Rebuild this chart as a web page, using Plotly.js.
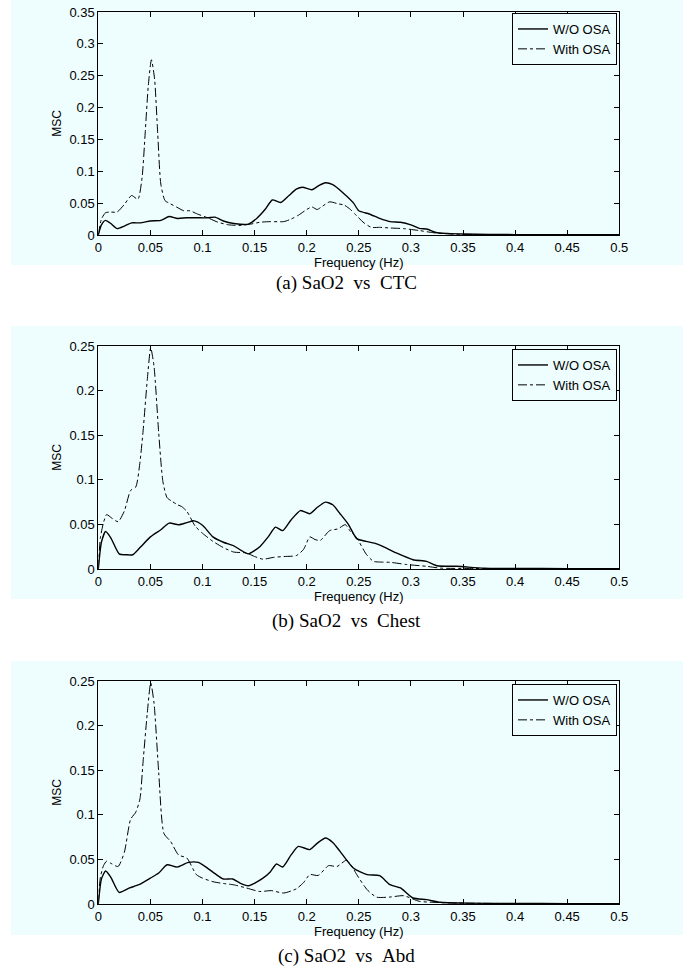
<!DOCTYPE html>
<html>
<head>
<meta charset="utf-8">
<script src="https://cdn.plot.ly/plotly-3.0.1.min.js"></script>
<style>html,body{margin:0;padding:0;background:#fff;}#plot{width:692px;height:971px;}</style>
</head>
<body>
<div id="plot"></div>
<script>
// ---------- data ----------
const seriesNames = ["W/O OSA", "With OSA"];
const captions = ["(a) SaO2\u2002vs\u2002CTC", "(b) SaO2\u2002vs\u2002Chest", "(c) SaO2\u2002vs\u2002Abd"];
const xTickVals = [0, 0.05, 0.1, 0.15, 0.2, 0.25, 0.3, 0.35, 0.4, 0.45, 0.5];
const xTickText = ["0", "0.05", "0.1", "0.15", "0.2", "0.25", "0.3", "0.35", "0.4", "0.45", "0.5"];
const yTickValsA = [0, 0.05, 0.1, 0.15, 0.2, 0.25, 0.3, 0.35];
const yTickTextA = ["0", "0.05", "0.1", "0.15", "0.2", "0.25", "0.3", "0.35"];
const yTickValsBC = [0, 0.05, 0.1, 0.15, 0.2, 0.25];
const yTickTextBC = ["0", "0.05", "0.1", "0.15", "0.2", "0.25"];

// (a) SaO2 vs CTC
const freqA_wo = [0, 0.003, 0.007, 0.012, 0.018, 0.025, 0.032, 0.04, 0.05, 0.06, 0.068, 0.076, 0.085, 0.095, 0.105, 0.112, 0.12, 0.13, 0.144, 0.152, 0.16, 0.167, 0.175, 0.183, 0.19, 0.196, 0.205, 0.212, 0.218, 0.225, 0.235, 0.245, 0.25, 0.26, 0.27, 0.28, 0.29, 0.3, 0.308, 0.316, 0.324, 0.335, 0.35, 0.375, 0.4, 0.45, 0.5];
const mscA_wo = [0, 0.016, 0.023, 0.018, 0.010, 0.014, 0.019, 0.019, 0.022, 0.023, 0.029, 0.026, 0.027, 0.027, 0.027, 0.028, 0.022, 0.018, 0.017, 0.026, 0.04, 0.055, 0.051, 0.062, 0.072, 0.075, 0.071, 0.078, 0.082, 0.079, 0.066, 0.05, 0.038, 0.033, 0.026, 0.021, 0.02, 0.016, 0.0105, 0.009, 0.004, 0.0025, 0.0016, 0.001, 0.0006, 0.0004, 0.0003];
const freqA_with = [0, 0.003, 0.007, 0.012, 0.018, 0.025, 0.032, 0.038, 0.042, 0.045, 0.048, 0.051, 0.054, 0.057, 0.06, 0.064, 0.068, 0.075, 0.082, 0.088, 0.095, 0.105, 0.115, 0.125, 0.135, 0.146, 0.155, 0.165, 0.178, 0.185, 0.192, 0.2, 0.205, 0.21, 0.215, 0.222, 0.23, 0.236, 0.242, 0.248, 0.255, 0.262, 0.27, 0.28, 0.293, 0.308, 0.321, 0.337, 0.36, 0.4, 0.45, 0.5];
const mscA_with = [0, 0.025, 0.035, 0.036, 0.036, 0.048, 0.062, 0.056, 0.09, 0.16, 0.235, 0.275, 0.245, 0.16, 0.08, 0.054, 0.05, 0.044, 0.038, 0.038, 0.033, 0.027, 0.02, 0.016, 0.015, 0.017, 0.02, 0.021, 0.021, 0.025, 0.031, 0.04, 0.044, 0.040, 0.045, 0.052, 0.049, 0.047, 0.04, 0.03, 0.019, 0.012, 0.012, 0.011, 0.010, 0.007, 0.0037, 0.0016, 0.0008, 0.0005, 0.0004, 0.0003];

// (b) SaO2 vs Chest
const freqB_wo = [0, 0.003, 0.007, 0.012, 0.02, 0.027, 0.033, 0.04, 0.05, 0.06, 0.068, 0.077, 0.085, 0.092, 0.1, 0.11, 0.12, 0.13, 0.137, 0.144, 0.155, 0.163, 0.17, 0.177, 0.185, 0.194, 0.203, 0.21, 0.218, 0.225, 0.232, 0.24, 0.248, 0.257, 0.265, 0.273, 0.286, 0.302, 0.315, 0.325, 0.344, 0.37, 0.4, 0.45, 0.5];
const mscB_wo = [0, 0.03, 0.042, 0.035, 0.017, 0.016, 0.016, 0.024, 0.036, 0.044, 0.0515, 0.0496, 0.052, 0.054, 0.049, 0.036, 0.030, 0.026, 0.021, 0.017, 0.025, 0.036, 0.047, 0.043, 0.055, 0.0655, 0.062, 0.069, 0.075, 0.072, 0.062, 0.05, 0.034, 0.031, 0.029, 0.0254, 0.018, 0.0104, 0.0086, 0.0037, 0.003, 0.001, 0.0006, 0.0004, 0.0003];
const freqB_with = [0, 0.002, 0.005, 0.008, 0.013, 0.019, 0.025, 0.031, 0.036, 0.04, 0.043, 0.047, 0.0503, 0.0535, 0.058, 0.062, 0.066, 0.071, 0.076, 0.08, 0.085, 0.093, 0.1, 0.11, 0.12, 0.13, 0.142, 0.15, 0.158, 0.168, 0.178, 0.19, 0.197, 0.203, 0.208, 0.213, 0.222, 0.23, 0.237, 0.242, 0.248, 0.257, 0.264, 0.27, 0.28, 0.296, 0.315, 0.328, 0.36, 0.4, 0.45, 0.5];
const mscB_with = [0, 0.035, 0.052, 0.061, 0.057, 0.053, 0.065, 0.088, 0.092, 0.12, 0.155, 0.212, 0.248, 0.227, 0.152, 0.098, 0.08, 0.0757, 0.072, 0.070, 0.0646, 0.048, 0.040, 0.031, 0.024, 0.019, 0.018, 0.014, 0.011, 0.013, 0.014, 0.015, 0.022, 0.036, 0.033, 0.032, 0.043, 0.045, 0.0497, 0.042, 0.035, 0.0168, 0.0086, 0.0078, 0.0075, 0.005, 0.003, 0.001, 0.0006, 0.0005, 0.0004, 0.0003];

// (c) SaO2 vs Abd
const freqC_wo = [0, 0.003, 0.007, 0.012, 0.02, 0.03, 0.039, 0.05, 0.058, 0.066, 0.0755, 0.0865, 0.096, 0.105, 0.112, 0.12, 0.129, 0.136, 0.144, 0.151, 0.158, 0.165, 0.171, 0.177, 0.185, 0.192, 0.203, 0.21, 0.218, 0.225, 0.232, 0.245, 0.258, 0.27, 0.28, 0.29, 0.302, 0.315, 0.328, 0.353, 0.4, 0.45, 0.5];
const mscC_wo = [0, 0.028, 0.037, 0.03, 0.013, 0.018, 0.0216, 0.029, 0.0347, 0.044, 0.0414, 0.0466, 0.0466, 0.04, 0.034, 0.028, 0.028, 0.0235, 0.0205, 0.024, 0.029, 0.036, 0.0448, 0.0415, 0.055, 0.0646, 0.061, 0.068, 0.074, 0.069, 0.059, 0.040, 0.033, 0.0317, 0.0216, 0.018, 0.0067, 0.0049, 0.0019, 0.001, 0.0006, 0.0004, 0.0003];
const freqC_with = [0, 0.002, 0.005, 0.008, 0.013, 0.019, 0.025, 0.031, 0.036, 0.04, 0.043, 0.047, 0.0503, 0.0535, 0.058, 0.063, 0.0695, 0.077, 0.085, 0.094, 0.1, 0.11, 0.12, 0.13, 0.142, 0.155, 0.166, 0.178, 0.19, 0.197, 0.203, 0.211, 0.221, 0.229, 0.238, 0.243, 0.248, 0.258, 0.267, 0.28, 0.293, 0.308, 0.321, 0.344, 0.4, 0.45, 0.5];
const mscC_with = [0, 0.03, 0.043, 0.048, 0.045, 0.042, 0.058, 0.095, 0.103, 0.118, 0.16, 0.214, 0.248, 0.225, 0.147, 0.079, 0.070, 0.055, 0.0515, 0.033, 0.029, 0.025, 0.023, 0.0215, 0.018, 0.014, 0.015, 0.0123, 0.017, 0.024, 0.033, 0.032, 0.043, 0.042, 0.049, 0.043, 0.033, 0.016, 0.0077, 0.0078, 0.0093, 0.003, 0.0019, 0.001, 0.0005, 0.0004, 0.0003];

// ---------- figure ----------
const W = 692, H = 971;
const BG = "#eefdfe";
const SANS = "Liberation Sans, Arial, Helvetica, sans-serif";
const px = v => v / W;
const py = v => 1 - v / H;

const panels = [
  {wx: freqA_wo, wy: mscA_wo, ox: freqA_with, oy: mscA_with, top: 12, bot: 235, bgTop: 0, bgBot: 265, ymax: 0.35, yv: yTickValsA, yt: yTickTextA, legTop: 13, cap: 283},
  {wx: freqB_wo, wy: mscB_wo, ox: freqB_with, oy: mscB_with, top: 346, bot: 569, bgTop: 326, bgBot: 599, ymax: 0.25, yv: yTickValsBC, yt: yTickTextBC, legTop: 349, cap: 621},
  {wx: freqC_wo, wy: mscC_wo, ox: freqC_with, oy: mscC_with, top: 681, bot: 904, bgTop: 661, bgBot: 935, ymax: 0.25, yv: yTickValsBC, yt: yTickTextBC, legTop: 684, cap: 956}
];

const traces = [];
const layout = {
  width: W, height: H,
  margin: {l: 0, r: 0, t: 0, b: 0, pad: 0},
  paper_bgcolor: "#ffffff",
  plot_bgcolor: BG,
  font: {family: SANS, size: 13, color: "#000"},
  shapes: [], annotations: [],
  showlegend: true
};

panels.forEach((p, i) => {
  const n = i === 0 ? "" : String(i + 1);
  const legName = "legend" + n;
  traces.push({
    x: p.wx, y: p.wy, type: "scatter", mode: "lines", name: seriesNames[0],
    xaxis: "x" + n, yaxis: "y" + n, legend: legName,
    line: {color: "#000", width: 1.4, shape: "spline", smoothing: 0.6}
  });
  traces.push({
    x: p.ox, y: p.oy, type: "scatter", mode: "lines", name: seriesNames[1],
    xaxis: "x" + n, yaxis: "y" + n, legend: legName,
    line: {color: "#000", width: 1, dash: "dashdot", shape: "spline", smoothing: 0.6}
  });
  const axCommon = {
    ticks: "inside", ticklen: 5, tickwidth: 1, tickcolor: "#000",
    showline: true, linecolor: "#000", linewidth: 1, mirror: "ticks",
    showgrid: false, zeroline: false, tickfont: {family: SANS, size: 13, color: "#000"},
    fixedrange: true
  };
  layout["xaxis" + n] = Object.assign({}, axCommon, {
    domain: [px(98.3), px(619.3)], range: [0, 0.5], anchor: "y" + n,
    tickmode: "array", tickvals: xTickVals, ticktext: xTickText,
    title: {text: "Frequency (Hz)", font: {family: SANS, size: 13, color: "#000"}, standoff: 2}
  });
  layout["yaxis" + n] = Object.assign({}, axCommon, {
    domain: [py(p.bot), py(p.top)], range: [0, p.ymax], anchor: "x" + n,
    tickmode: "array", tickvals: p.yv, ticktext: p.yt,
    title: {text: "MSC", font: {family: SANS, size: 12, color: "#000"}, standoff: 5}
  });
  layout[legName] = {
    x: px(617), y: py(p.legTop), xanchor: "right", yanchor: "top",
    xref: "paper", yref: "paper",
    bgcolor: BG, bordercolor: "#000", borderwidth: 1,
    font: {family: SANS, size: 13, color: "#000"},
    tracegroupgap: 0, itemwidth: 30
  };
  layout.shapes.push({
    type: "rect", xref: "paper", yref: "paper", layer: "below",
    x0: px(11), x1: px(683), y0: py(p.bgBot), y1: py(p.bgTop),
    fillcolor: BG, line: {width: 0}
  });
  layout.annotations.push({
    text: captions[i], xref: "paper", yref: "paper", x: px(346), y: py(p.cap),
    xanchor: "center", yanchor: "middle", showarrow: false,
    font: {family: "Liberation Serif, Times New Roman, serif", size: 19, color: "#000"}
  });
});

Plotly.newPlot("plot", traces, layout, {staticPlot: true, displayModeBar: false});
</script>
</body>
</html>
